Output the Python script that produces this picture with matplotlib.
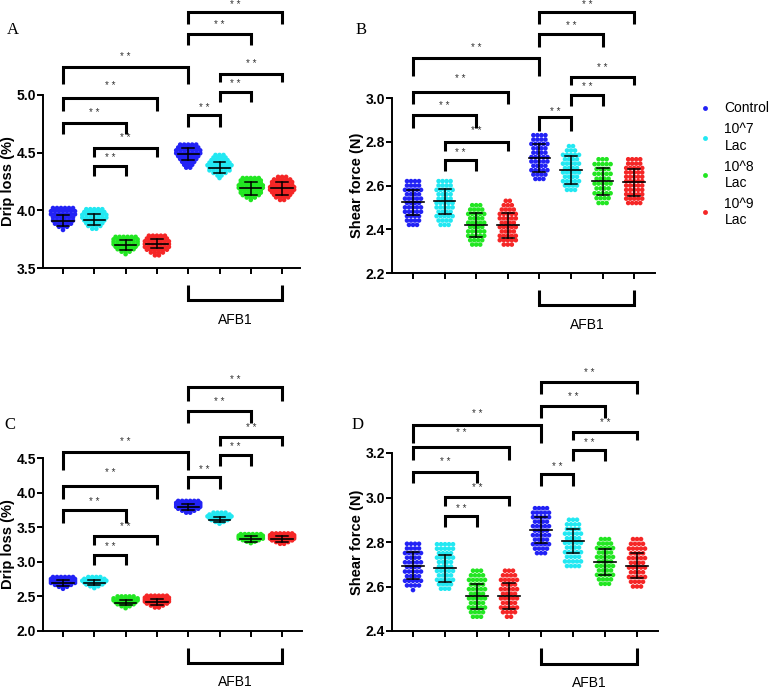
import numpy as np
import matplotlib
matplotlib.use('Agg')
import matplotlib.pyplot as plt
from matplotlib import transforms
from matplotlib.lines import Line2D

W, H = 769, 689

# ---------------- data ----------------
groups = ['Control', '10^7 Lac', '10^8 Lac', '10^9 Lac',
          'AFB1+Control', 'AFB1+10^7 Lac', 'AFB1+10^8 Lac', 'AFB1+10^9 Lac']
legend_labels = ['Control', '10^7\nLac', '10^8\nLac', '10^9\nLac']
colors = ['#2222f5', '#22e8f2', '#22e622', '#f52626']

# Panel A - Drip loss (%)
A_lo = [3.83, 3.84, 3.62, 3.61, 4.37, 4.28, 4.09, 4.09]
A_hi = [4.02, 4.01, 3.77, 3.78, 4.57, 4.48, 4.28, 4.29]
A_mean = [3.91, 3.92, 3.70, 3.71, 4.49, 4.37, 4.19, 4.19]
A_sd = [0.05, 0.05, 0.04, 0.04, 0.05, 0.05, 0.06, 0.06]
A_counts = [[1, 3, 5, 6, 6, 7, 7, 6],
            [2, 4, 5, 6, 7, 7, 6, 5],
            [1, 3, 5, 6, 7, 7, 7, 6],
            [2, 4, 6, 7, 7, 7, 6, 5],
            [2, 3, 4, 5, 6, 7, 7, 6, 5],
            [1, 2, 4, 6, 6, 7, 6, 5, 4, 3],
            [1, 3, 5, 6, 6, 7, 7, 6, 6, 5],
            [2, 4, 5, 6, 7, 7, 6, 6, 5, 3]]

# Panel B - Shear force (N)
B_lo = [2.42, 2.42, 2.33, 2.33, 2.63, 2.58, 2.52, 2.52]
B_hi = [2.62, 2.62, 2.51, 2.53, 2.83, 2.78, 2.72, 2.72]
B_mean = [2.523, 2.527, 2.418, 2.418, 2.726, 2.672, 2.619, 2.614]
B_sd = [0.058, 0.058, 0.055, 0.057, 0.062, 0.063, 0.061, 0.062]
B_counts = [[3, 4, 4, 5, 5, 4, 5, 4, 5, 4, 4],
            [3, 4, 5, 4, 5, 5, 4, 4, 5, 4, 4],
            [3, 4, 5, 5, 4, 5, 4, 5, 4, 3],
            [3, 5, 5, 4, 5, 4, 5, 5, 4, 3, 2],
            [3, 4, 5, 4, 5, 5, 4, 4, 5, 4, 4],
            [3, 4, 5, 4, 5, 4, 5, 4, 5, 3, 2],
            [3, 4, 5, 4, 5, 4, 5, 4, 5, 3],
            [4, 5, 5, 5, 5, 5, 5, 5, 5, 4, 4]]

# Panel C - Drip loss (%)
C_lo = [2.61, 2.62, 2.33, 2.34, 3.71, 3.55, 3.27, 3.26]
C_hi = [2.78, 2.78, 2.50, 2.51, 3.88, 3.71, 3.40, 3.41]
C_mean = [2.69, 2.70, 2.41, 2.42, 3.79, 3.61, 3.33, 3.33]
C_sd = [0.04, 0.04, 0.04, 0.04, 0.04, 0.04, 0.04, 0.04]
C_counts = [[1, 3, 5, 7, 7, 7, 6],
            [1, 3, 5, 6, 7, 6, 4],
            [1, 3, 5, 6, 7, 7, 5],
            [2, 4, 6, 7, 7, 7, 6],
            [2, 4, 6, 7, 7, 7, 6],
            [1, 3, 5, 6, 7, 6, 4],
            [1, 3, 5, 7, 7, 7, 6],
            [2, 4, 6, 7, 7, 7, 6]]

# Panel D - Shear force (N)
D_lo = [2.584, 2.59, 2.464, 2.464, 2.75, 2.692, 2.612, 2.60]
D_hi = [2.792, 2.79, 2.671, 2.671, 2.952, 2.90, 2.813, 2.813]
D_mean = [2.694, 2.682, 2.557, 2.557, 2.855, 2.805, 2.71, 2.694]
D_sd = [0.059, 0.06, 0.056, 0.058, 0.058, 0.055, 0.057, 0.058]
D_counts = [[1, 4, 5, 4, 5, 4, 5, 4, 5, 4, 4],
            [3, 4, 5, 4, 5, 4, 4, 5, 4, 5, 5],
            [3, 4, 5, 4, 5, 4, 5, 4, 5, 4, 3],
            [2, 4, 5, 4, 5, 4, 5, 4, 5, 4, 3],
            [3, 4, 5, 4, 5, 4, 5, 4, 5, 5, 4],
            [4, 5, 4, 5, 4, 5, 4, 5, 4, 4, 3],
            [3, 4, 5, 4, 5, 4, 5, 4, 5, 4, 3],
            [3, 4, 5, 4, 5, 4, 5, 4, 5, 4, 3]]

# ---------------- layout (reference pixels) ----------------
panels = [
    dict(letter='A', lpos=(7, 30), rect=(43, 95, 300, 268), cat0=63, pitch=31.3,
         ylim=(3.5, 5.0), yticks=[3.5, 4.0, 4.5, 5.0], ylabel='Drip loss (%)',
         lo=A_lo, hi=A_hi, mean=A_mean, sd=A_sd, counts=A_counts,
         brackets=[(0, 4, 67, 84, 57), (0, 3, 98, 111, 86), (0, 2, 123, 134, 113),
                   (1, 3, 148, 157, 138), (1, 2, 166, 176, 158), (4, 5, 115, 127, 108),
                   (5, 6, 92, 102, 84), (5, 7, 74, 82, 64), (4, 6, 34, 45, 25),
                   (4, 7, 12, 24, 5)],
         afb=(285, 300, 320)),
    dict(letter='B', lpos=(356, 30), rect=(392, 98, 655, 273), cat0=413, pitch=31.6,
         ylim=(2.2, 3.0), yticks=[2.2, 2.4, 2.6, 2.8, 3.0], ylabel='Shear force (N)',
         lo=B_lo, hi=B_hi, mean=B_mean, sd=B_sd, counts=B_counts,
         brackets=[(0, 4, 58, 76, 48), (0, 3, 92, 104, 79), (0, 2, 115, 128, 106),
                   (1, 3, 142, 151, 131), (1, 2, 160, 171, 153), (4, 5, 117, 131, 112),
                   (5, 6, 95, 106, 87), (5, 7, 77, 85, 68), (4, 6, 34, 47, 26),
                   (4, 7, 12, 24, 5)],
         afb=(290, 305, 325)),
    dict(letter='C', lpos=(4, 425), rect=(43, 458, 302, 631), cat0=63, pitch=31.3,
         ylim=(2.0, 4.5), yticks=[2.0, 2.5, 3.0, 3.5, 4.0, 4.5], ylabel='Drip loss (%)',
         lo=C_lo, hi=C_hi, mean=C_mean, sd=C_sd, counts=C_counts,
         brackets=[(0, 4, 452, 470, 442), (0, 3, 486, 499, 473), (0, 2, 510, 523, 502),
                   (1, 3, 536, 545, 527), (1, 2, 555, 565, 547), (4, 5, 477, 489, 470),
                   (5, 6, 455, 466, 447), (5, 7, 437, 446, 428), (4, 6, 411, 423, 402),
                   (4, 7, 387, 401, 380)],
         afb=(648, 663, 682)),
    dict(letter='D', lpos=(352, 425), rect=(392, 453, 658, 631), cat0=413, pitch=32.0,
         ylim=(2.4, 3.2), yticks=[2.4, 2.6, 2.8, 3.0, 3.2], ylabel='Shear force (N)',
         lo=D_lo, hi=D_hi, mean=D_mean, sd=D_sd, counts=D_counts,
         brackets=[(0, 4, 425, 443, 414), (0, 3, 447, 460, 433), (0, 2, 472, 483, 462),
                   (1, 3, 497, 506, 488), (1, 2, 516, 527, 509), (4, 5, 474, 486, 467),
                   (5, 6, 450, 461, 443), (5, 7, 432, 440, 423), (4, 6, 406, 418, 397),
                   (4, 7, 382, 394, 373)],
         afb=(648, 664, 683)),
]

plt.rcParams['font.family'] = ['Liberation Sans', 'DejaVu Sans']
fig = plt.figure(figsize=(W / 100, H / 100), dpi=100)

DX_PX = 4.0       # horizontal spacing of swarm dots in pixels
MEAN_HALF = 0.34  # half-width of mean line (category units)
CAP_HALF = 0.19

def fy(py):
    return 1 - py / H

for p in panels:
    l, t, r, b = p['rect']
    ax = fig.add_axes([l / W, 1 - b / H, (r - l) / W, (b - t) / H])
    x0 = (l - p['cat0']) / p['pitch']
    x1 = (r - p['cat0']) / p['pitch']
    ax.set_xlim(x0, x1)
    ax.set_ylim(*p['ylim'])
    dx = DX_PX / p['pitch']
    for g in range(8):
        cnts = p['counts'][g]
        levels = np.linspace(p['lo'][g], p['hi'][g], len(cnts))
        xs, ys = [], []
        for lev, n in zip(levels, cnts):
            offs = (np.arange(n) - (n - 1) / 2) * dx
            xs.extend(g + offs)
            ys.extend([lev] * n)
        ax.scatter(xs, ys, s=11, color=colors[g % 4], edgecolors='none',
                   zorder=2, clip_on=False)
        m, s = p['mean'][g], p['sd'][g]
        ax.plot([g - MEAN_HALF, g + MEAN_HALF], [m, m], color='k', lw=1.2, zorder=3)
        ax.plot([g, g], [m - s, m + s], color='k', lw=1.1, zorder=3)
        for yy in (m - s, m + s):
            ax.plot([g - CAP_HALF, g + CAP_HALF], [yy, yy], color='k', lw=1.1, zorder=3)

    ax.spines['top'].set_visible(False)
    ax.spines['right'].set_visible(False)
    for sp in ('left', 'bottom'):
        ax.spines[sp].set_linewidth(1.4)
    ax.set_xticks(range(8))
    ax.set_xticklabels([])
    ax.set_yticks(p['yticks'])
    ax.set_yticklabels(['%.1f' % v for v in p['yticks']], fontweight='bold', fontsize=10)
    ax.tick_params(axis='both', direction='out', length=4, width=1.4, pad=1)
    ax.set_ylabel(p['ylabel'], fontweight='bold', fontsize=10.5, labelpad=1)

    trans = transforms.blended_transform_factory(ax.transData, fig.transFigure)
    for (i, j, yl, yb, yt) in p['brackets']:
        ax.plot([i, i, j, j], [fy(yb), fy(yl), fy(yl), fy(yb)], transform=trans,
                color='k', lw=2.2, clip_on=False, solid_joinstyle='miter',
                solid_capstyle='butt')
        ax.text((i + j) / 2, fy(yt), '* *', transform=trans, ha='center', va='center',
                fontsize=7, color='#333333')
    at, ab, atxt = p['afb']
    ax.plot([4, 4, 7, 7], [fy(at), fy(ab), fy(ab), fy(at)], transform=trans,
            color='k', lw=2.2, clip_on=False, solid_joinstyle='miter',
            solid_capstyle='butt')
    ax.text(5.5, fy(atxt), 'AFB1', transform=trans, ha='center', va='center',
            fontsize=10)
    fig.text(p['lpos'][0] / W, fy(p['lpos'][1]), p['letter'],
             family=['Liberation Serif', 'DejaVu Serif'], fontsize=12,
             ha='left', va='center')

handles = [Line2D([], [], marker='o', ls='none', color=c, markersize=3.5,
                  markeredgewidth=0) for c in colors]
fig.legend(handles, legend_labels, loc='upper left',
           bbox_to_anchor=(698 / W, fy(101.5)), frameon=False, fontsize=10,
           handlelength=1.0, handletextpad=0.9, borderpad=0, borderaxespad=0,
           labelspacing=0.5)

fig.savefig('out.png', dpi=100)
